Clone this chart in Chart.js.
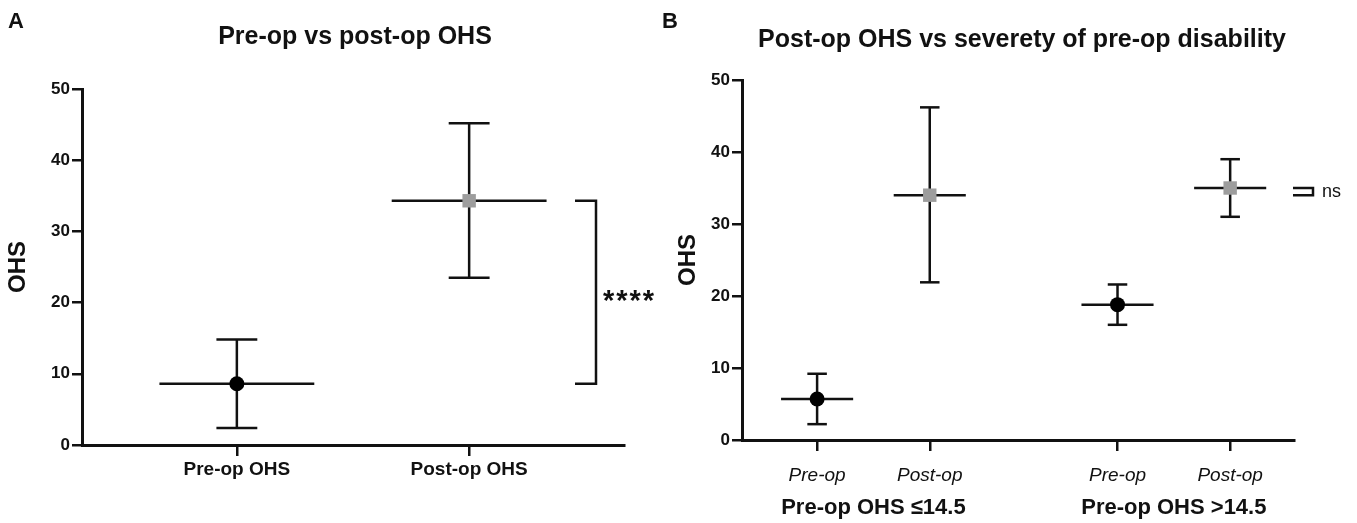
<!DOCTYPE html>
<html>
<head>
<meta charset="utf-8">
<script src="https://cdn.jsdelivr.net/npm/chart.js@4.4.1/dist/chart.umd.min.js"></script>
<style>
    body { margin: 0; background: #fff; }
    #wrap { position: relative; width: 1357px; height: 523px; overflow: hidden; }
    .panel { position: absolute; top: 0; height: 523px; }
</style>
</head>
<body>
<div id="wrap">
    <div class="panel" style="left:0; width:680px;"><canvas id="chartA"></canvas></div>
    <div class="panel" style="left:660px; width:697px;"><canvas id="chartB"></canvas></div>
</div>
<script>
// Panel A: pre-op vs post-op OHS (mean with error bars)
const groupsA = ['Pre-op OHS', 'Post-op OHS'];
const meansA = [8.6, 34.3];
const lowerA = [2.4, 23.5];
const upperA = [14.8, 45.2];

// Panel B: post-op OHS by severity of pre-op disability
const ticksB = ['Pre-op', 'Post-op', 'Pre-op', 'Post-op'];
const groupsB = ['Pre-op OHS \u226414.5', 'Pre-op OHS >14.5'];
const meansB = [5.7, 34.0, 18.8, 35.0];
const lowerB = [2.2, 21.9, 16.0, 31.0];
const upperB = [9.2, 46.2, 21.6, 39.0];

const yTicks = [0, 10, 20, 30, 40, 50];
const sigA = '****';
const sigB = 'ns';

const FONT = "'Liberation Sans', Arial, Helvetica, sans-serif";
const INK = '#111';
const GREY = '#9d9d9d';
Chart.defaults.font.family = FONT;
Chart.defaults.color = INK;

// x layout: categories spaced 1.5 apart, groups in B 4 apart
const xA = i => 1 + i * 1.5;
const xB = i => 1 + Math.floor(i / 2) * 4 + (i % 2) * 1.5;

function seg(ctx, x1, y1, x2, y2) {
    ctx.beginPath();
    ctx.moveTo(x1, y1);
    ctx.lineTo(x2, y2);
    ctx.stroke();
}

const errorBars = {
    id: 'errorBars',
    beforeDatasetsDraw(chart, args, opts) {
        const { ctx } = chart;
        const { x, y } = chart.scales;
        ctx.save();
        ctx.strokeStyle = INK;
        ctx.lineWidth = 2.5;
        opts.means.forEach((m, i) => {
            const cx = x.getPixelForValue(opts.xs[i]);
            const yl = y.getPixelForValue(opts.lower[i]);
            const yu = y.getPixelForValue(opts.upper[i]);
            const ym = y.getPixelForValue(m);
            const hw = x.getPixelForValue(opts.xs[i] + opts.half) - cx;
            const cw = x.getPixelForValue(opts.xs[i] + opts.cap) - cx;
            seg(ctx, cx, yl, cx, yu);
            seg(ctx, cx - cw, yl, cx + cw, yl);
            seg(ctx, cx - cw, yu, cx + cw, yu);
            seg(ctx, cx - hw, ym, cx + hw, ym);
        });
        ctx.restore();
    }
};

function text(ctx, str, x, y, font, align) {
    ctx.font = font;
    ctx.textAlign = align || 'center';
    ctx.textBaseline = 'middle';
    ctx.fillStyle = INK;
    ctx.fillText(str, x, y);
}

const extrasA = {
    id: 'extrasA',
    afterDraw(chart) {
        const { ctx, chartArea } = chart;
        const { y } = chart.scales;
        ctx.save();
        text(ctx, 'A', 8, 22, 'bold 22px ' + FONT, 'left');
        text(ctx, 'Pre-op vs post-op OHS', 355, 37, 'bold 25px ' + FONT);
        // significance bracket between the two means
        const bx = chartArea.right - 28;
        const y1 = y.getPixelForValue(meansA[1]);
        const y0 = y.getPixelForValue(meansA[0]);
        ctx.strokeStyle = INK;
        ctx.lineWidth = 2.5;
        ctx.beginPath();
        ctx.moveTo(bx - 21, y1);
        ctx.lineTo(bx, y1);
        ctx.lineTo(bx, y0);
        ctx.lineTo(bx - 21, y0);
        ctx.stroke();
        ctx.letterSpacing = '2px';
        text(ctx, sigA, bx + 7, (y0 + y1) / 2 + 10, 'bold 29px ' + FONT, 'left');
        ctx.restore();
    }
};

const extrasB = {
    id: 'extrasB',
    afterDraw(chart) {
        const { ctx, chartArea } = chart;
        const { x, y } = chart.scales;
        ctx.save();
        text(ctx, 'B', 2, 22, 'bold 22px ' + FONT, 'left');
        text(ctx, 'Post-op OHS vs severety of pre-op disability', 362, 40, 'bold 25px ' + FONT);
        groupsB.forEach((g, i) => {
            const cx = (x.getPixelForValue(xB(2 * i)) + x.getPixelForValue(xB(2 * i + 1))) / 2;
            text(ctx, g, cx, 508, 'bold 22px ' + FONT);
        });
        // ns bracket between the two post-op means
        const bx = chartArea.right + 19;
        const y1 = y.getPixelForValue(meansB[3]);
        const y0 = y.getPixelForValue(meansB[1]);
        ctx.strokeStyle = INK;
        ctx.lineWidth = 2.5;
        ctx.beginPath();
        ctx.moveTo(bx - 20, y1);
        ctx.lineTo(bx, y1);
        ctx.lineTo(bx, y0);
        ctx.lineTo(bx - 20, y0);
        ctx.stroke();
        text(ctx, sigB, bx + 9, (y0 + y1) / 2, '18px ' + FONT, 'left');
        ctx.restore();
    }
};

function yScale(titlePad) {
    return {
        min: 0,
        max: 50,
        afterBuildTicks: s => { s.ticks = yTicks.map(v => ({ value: v })); },
        afterFit: s => { s.width = 82; },
        ticks: { font: { size: 17, weight: 'bold' }, color: INK, padding: 2 },
        grid: { drawOnChartArea: false, drawTicks: true, tickLength: 10, lineWidth: 2.5, color: INK },
        border: { display: true, width: 3, color: INK },
        title: { display: true, text: 'OHS', font: { size: 24, weight: 'bold' }, color: INK, padding: { top: titlePad, bottom: 0 } }
    };
}

function xScale(max, positions, labels, h, font, pad, tickLen) {
    return {
        type: 'linear',
        min: 0,
        max: max,
        afterBuildTicks: s => { s.ticks = positions.map(v => ({ value: v })); },
        afterFit: s => { s.height = h; },
        ticks: { callback: (v, i) => labels[i], font: font, color: INK, padding: pad, autoSkip: false, maxRotation: 0 },
        grid: { drawOnChartArea: false, drawTicks: true, tickLength: tickLen, lineWidth: 2.5, color: INK },
        border: { display: true, width: 3, color: INK }
    };
}

function markers(means, xf) {
    return [{
        data: means.map((m, i) => ({ x: xf(i), y: m })),
        pointStyle: means.map((m, i) => (i % 2 === 0 ? 'circle' : 'rect')),
        pointRadius: means.map((m, i) => (i % 2 === 0 ? 7.5 : 9.5)),
        pointHoverRadius: means.map((m, i) => (i % 2 === 0 ? 7.5 : 9.5)),
        backgroundColor: means.map((m, i) => (i % 2 === 0 ? '#000' : GREY)),
        borderWidth: 0
    }];
}

new Chart(document.getElementById('chartA'), {
    type: 'scatter',
    data: { datasets: markers(meansA, xA) },
    options: {
        responsive: true,
        maintainAspectRatio: false,
        animation: false,
        layout: { padding: { left: 0, right: 56, top: 89, bottom: 0 } },
        plugins: {
            legend: { display: false },
            tooltip: { enabled: false },
            errorBars: { means: meansA, lower: lowerA, upper: upperA, xs: meansA.map((m, i) => xA(i)), half: 0.5, cap: 0.132 }
        },
        scales: {
            x: xScale(3.5, groupsA.map((g, i) => xA(i)), groupsA, 78, { size: 19, weight: 'bold' }, 2, 11),
            y: yScale(4)
        }
    },
    plugins: [errorBars, extrasA]
});

new Chart(document.getElementById('chartB'), {
    type: 'scatter',
    data: { datasets: markers(meansB, xB) },
    options: {
        responsive: true,
        maintainAspectRatio: false,
        animation: false,
        layout: { padding: { left: 0, right: 63, top: 80, bottom: 0 } },
        plugins: {
            legend: { display: false },
            tooltip: { enabled: false },
            errorBars: { means: meansB, lower: lowerB, upper: upperB, xs: meansB.map((m, i) => xB(i)), half: 0.48, cap: 0.13 }
        },
        scales: {
            x: xScale(7.35, ticksB.map((t, i) => xB(i)), ticksB, 83, { size: 19, style: 'italic' }, 13, 11),
            y: yScale(14)
        }
    },
    plugins: [errorBars, extrasB]
});
</script>
</body>
</html>
